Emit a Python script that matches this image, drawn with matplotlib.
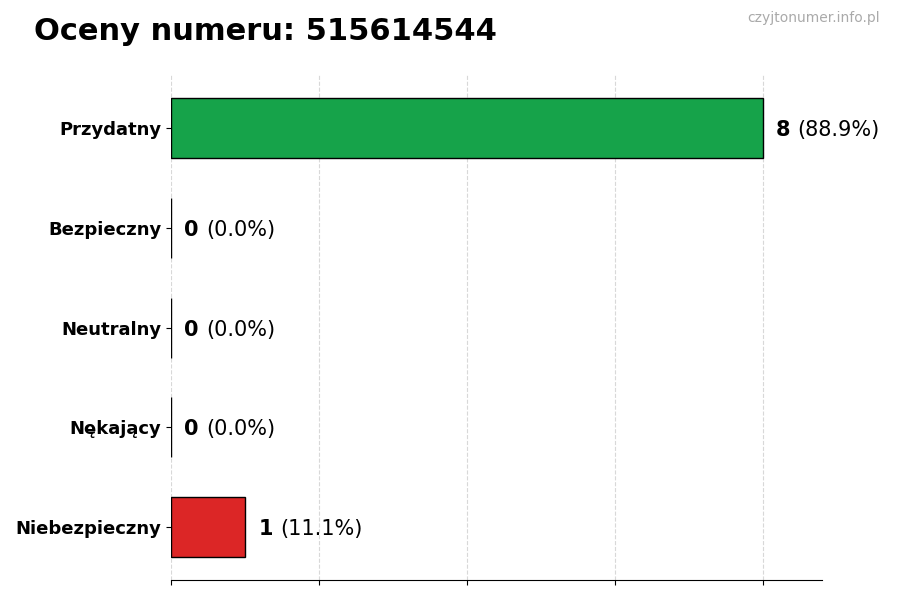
import matplotlib.pyplot as plt
from matplotlib.transforms import offset_copy

categories = ['Przydatny', 'Bezpieczny', 'Neutralny', 'Nękający', 'Niebezpieczny']
counts = [8, 0, 0, 0, 1]
colors = ['#16a34a', '#9ca3af', '#9ca3af', '#9ca3af', '#dc2626']
total = sum(counts)

fig = plt.figure(figsize=(9, 6), dpi=100)
ax = fig.add_axes([0.19, 0.033, 0.723, 0.842])

y = list(range(len(categories)))
ax.barh(y, counts, height=0.6, color=colors, edgecolor='black', linewidth=1, zorder=3)
ax.invert_yaxis()
ax.set_xlim(0, 8.8)
ax.set_xticks([0, 2, 4, 6, 8])
ax.set_xticklabels([])
ax.set_yticks(y)
ax.set_yticklabels(categories, fontsize=13, fontweight='bold')
ax.grid(axis='x', linestyle='--', color='#d8d8d8', linewidth=0.8, zorder=0)
for s in ['top', 'right', 'left']:
    ax.spines[s].set_visible(False)

fig.canvas.draw()
renderer = fig.canvas.get_renderer()
for yi, c in zip(y, counts):
    t = ax.text(c + 0.18, yi, str(c), fontsize=15, fontweight='bold', va='center_baseline', ha='left')
    ext = t.get_window_extent(renderer)
    pct = 100 * c / total
    tr = offset_copy(ax.transData, fig=fig, x=ext.width + 7, y=0, units='dots')
    ax.text(c + 0.18, yi, f'({pct:.1f}%)', fontsize=15, va='center_baseline', ha='left', transform=tr)

fig.text(0.038, 0.948, 'Oceny numeru: 515614544', fontsize=22, fontweight='bold', va='center', ha='left')
fig.text(0.978, 0.97, 'czyjtonumer.info.pl', fontsize=10, color='#aaaaaa', va='center', ha='right')

fig.savefig('out.png', dpi=100)
